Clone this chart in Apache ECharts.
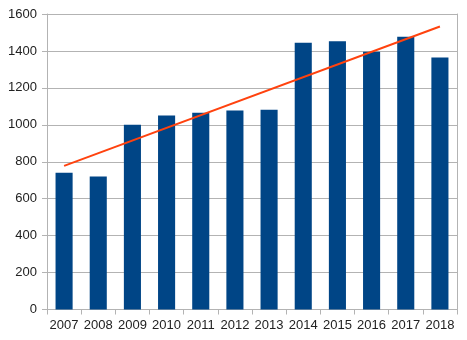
<!DOCTYPE html>
<html><head><meta charset="utf-8">
<script src="https://cdn.jsdelivr.net/npm/echarts@6/dist/echarts.min.js"></script>
<style>html,body{margin:0;padding:0;background:#fff}#c{width:467px;height:340px}</style>
</head><body><div id="c"></div>
<script>
var years = ['2007','2008','2009','2010','2011','2012','2013','2014','2015','2016','2017','2018'];
var values = [740, 720, 1000, 1050, 1065, 1078, 1082, 1445, 1452, 1395, 1477, 1365];
var trend = [778, null, null, null, null, null, null, null, null, null, null, 1532];
var yTicks = [0, 200, 400, 600, 800, 1000, 1200, 1400, 1600];

var chart = echarts.init(document.getElementById('c'), null, {renderer: 'canvas'});
var font = {fontFamily: 'Liberation Sans', fontSize: 13, color: '#222'};
chart.setOption({
  animation: false,
  grid: {left: 47, right: 10, top: 14, bottom: 30.5},
  xAxis: {
    type: 'category', data: years, boundaryGap: true,
    axisLine: {lineStyle: {color: '#b3b3b3'}},
    axisTick: {show: true, length: 5, alignWithLabel: false, lineStyle: {color: '#b3b3b3'}},
    axisLabel: Object.assign({margin: 9, interval: 0}, font)
  },
  yAxis: [{
    type: 'value', min: yTicks[0], max: yTicks[yTicks.length-1], interval: 200,
    axisLine: {show: true, lineStyle: {color: '#b3b3b3'}},
    axisTick: {show: true, length: 5, lineStyle: {color: '#b3b3b3'}},
    axisLabel: Object.assign({margin: 10, formatter: function (v) { return String(v); }}, font),
    splitLine: {lineStyle: {color: '#b3b3b3'}}
  }, {
    type: 'value', position: 'right', min: yTicks[0], max: yTicks[yTicks.length-1], interval: 200,
    axisLine: {show: true, lineStyle: {color: '#b3b3b3'}},
    axisTick: {show: false}, axisLabel: {show: false}, splitLine: {show: false}
  }],
  series: [{
    type: 'bar', data: values, barWidth: '50%',
    itemStyle: {color: '#004586'}
  }, {
    type: 'line', data: trend, connectNulls: true, symbol: 'none',
    lineStyle: {color: '#ff420e', width: 2}, z: 5
  }]
});
</script></body></html>
